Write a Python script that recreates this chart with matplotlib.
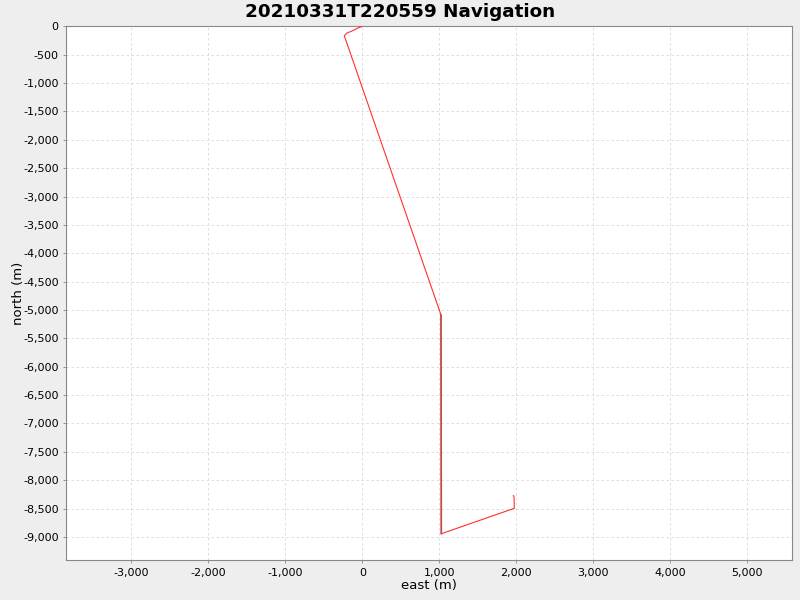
import matplotlib
matplotlib.use("Agg")
import matplotlib.pyplot as plt
from matplotlib.ticker import FuncFormatter, MultipleLocator

title = "20210331T220559 Navigation"

# navigation track (east, north) in metres
east = [0, -56, -134, -199, -234, 1022, 1026, 1974, 1970, 1961]
north = [0, -30, -83, -118, -166, -5088, -8943, -8495, -8281, -8273]

# segment drawn darker (overlapping passes)
east_dark = [1022, 1026]
north_dark = [-5088, -8943]

fig = plt.figure(figsize=(8, 6), dpi=100, facecolor="#eeeeee")
ax = fig.add_axes([66.3 / 800, 1 - 560 / 600, (792.3 - 66.3) / 800, (560 - 26.3) / 600])
ax.set_facecolor("white")

ax.plot(east_dark, north_dark, color="#707070", lw=1.2, zorder=2)
ax.plot(east, north, color="#ff3030", lw=0.8, zorder=3)

ax.set_xlim(-3844, 5584)
ax.set_ylim(-9406, 0)
ax.xaxis.set_major_locator(MultipleLocator(1000))
ax.yaxis.set_major_locator(MultipleLocator(500))
fmt = FuncFormatter(lambda v, p: f"{int(round(v)):,}")
ax.xaxis.set_major_formatter(fmt)
ax.yaxis.set_major_formatter(fmt)

ax.grid(True, color="#d8d8d8", lw=0.6, ls=(0, (3, 3)))
ax.set_axisbelow(True)
for s in ax.spines.values():
    s.set_color("#888888")
    s.set_linewidth(0.8)
ax.tick_params(colors="#888888", labelcolor="black", labelsize=8, length=2, width=0.6)

ax.set_xlabel("east (m)", fontsize=9.5, va="center")
ax.set_ylabel("north (m)", fontsize=9.5, va="center")
ax.xaxis.set_label_coords(0.5, (560 - 585) / 533.7)
ax.yaxis.set_label_coords((18 - 66.3) / 726, 0.5)
fig.text(0.5, 1 - 12 / 600, title, ha="center", va="center", fontsize=13.2, fontweight="bold")

fig.savefig("out.png", dpi=100, facecolor=fig.get_facecolor())
